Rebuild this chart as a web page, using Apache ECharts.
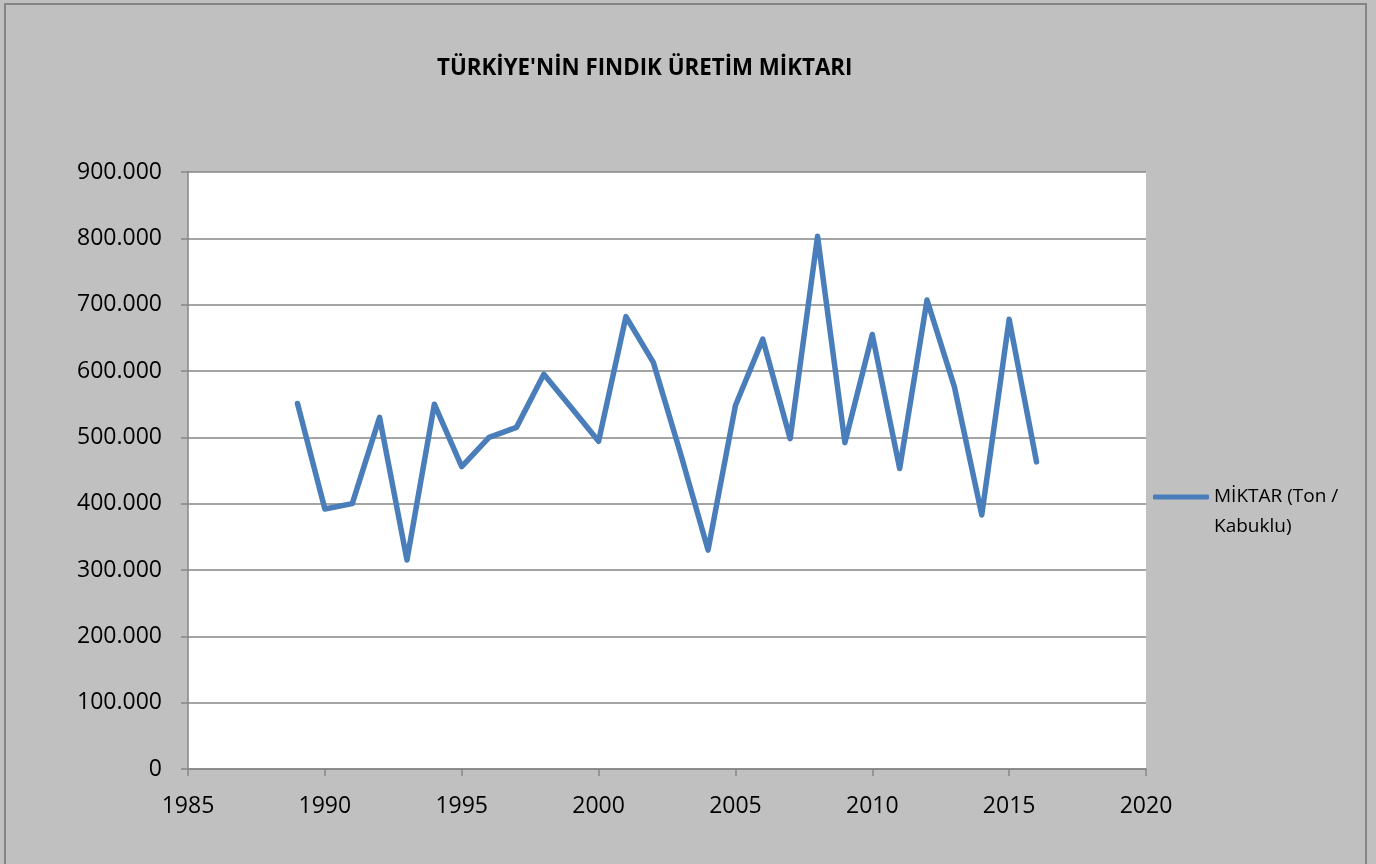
<!DOCTYPE html>
<html>
<head>
<meta charset="utf-8">
<title>Türkiye'nin Fındık Üretim Miktarı</title>
<script src="https://cdn.jsdelivr.net/npm/echarts@6/dist/echarts.min.js"></script>
<style>
  html, body { margin: 0; padding: 0; background: #c0c0c0; }
  #chart { width: 1376px; height: 864px; }
</style>
</head>
<body>
<div id="chart"></div>
<script>
  // Yıllar ve üretim miktarları (ton, kabuklu)
  const years = [1989, 1990, 1991, 1992, 1993, 1994, 1995, 1996, 1997, 1998,
                 1999, 2000, 2001, 2002, 2003, 2004, 2005, 2006, 2007, 2008,
                 2009, 2010, 2011, 2012, 2013, 2014, 2015, 2016];
  const amounts = [551000, 392000, 400000, 530000, 315000, 550000, 456000, 500000, 515000, 595000,
                   545000, 494000, 682000, 613000, 475000, 330000, 548000, 648000, 498000, 803000,
                   492000, 655000, 453000, 707000, 576000, 383000, 678000, 463000];
  const seriesName = 'MİKTAR (Ton / Kabuklu)';
  const titleText = "TÜRKİYE'NİN FINDIK ÜRETİM MİKTARI";

  const points = years.map(function (y, i) { return [y, amounts[i]]; });

  // binlik ayırıcı nokta: 900000 -> 900.000
  function fmt(v) {
    return String(v).replace(/\B(?=(\d{3})+(?!\d))/g, '.');
  }

  const font = '"Open Sans", "Liberation Sans", sans-serif';
  const axisGray = '#868686';

  const chart = echarts.init(document.getElementById('chart'), null, { renderer: 'canvas' });
  chart.setOption({
    backgroundColor: '#c0c0c0',
    animation: false,
    title: {
      text: titleText,
      left: 432,
      top: 53,
      textStyle: { fontFamily: font, fontSize: 22.3, fontWeight: 'bold', color: '#000' }
    },
    legend: {
      left: 1153,
      top: 452,
      padding: 0,
      icon: 'roundRect',
      itemWidth: 56,
      itemHeight: 5,
      // boş ilk satır: ilk satır çizgiyle hizalı kalsın diye
      formatter: function () { return ' \nMİKTAR (Ton /\nKabuklu)'; },
      textStyle: { fontFamily: font, fontSize: 19, color: '#000', lineHeight: 30 },
      data: [seriesName]
    },
    grid: { left: 188, right: 230, top: 172, bottom: 95, containLabel: false },
    xAxis: {
      type: 'value',
      min: 1985,
      max: 2020,
      interval: 5,
      axisLine: { show: true, lineStyle: { color: axisGray, width: 1.5 } },
      axisTick: { show: true, inside: false, length: 7, lineStyle: { color: axisGray, width: 1.5 } },
      splitLine: { show: false },
      axisLabel: { margin: 26, fontFamily: font, fontSize: 23, color: '#000', formatter: function (v) { return String(v); } }
    },
    yAxis: {
      type: 'value',
      min: 0,
      max: 900000,
      interval: 100000,
      axisLine: { show: true, lineStyle: { color: axisGray, width: 1.5 } },
      axisTick: { show: true, inside: false, length: 7, lineStyle: { color: axisGray, width: 1.5 } },
      splitLine: { show: true, lineStyle: { color: axisGray, width: 1.5 } },
      axisLabel: { margin: 26, fontFamily: font, fontSize: 23, color: '#000', formatter: fmt }
    },
    series: [{
      name: seriesName,
      type: 'line',
      data: points,
      symbol: 'none',
      itemStyle: { color: '#4a7ebb' },
      lineStyle: { color: '#4a7ebb', width: 5.5, cap: 'round', join: 'round' }
    }],
    graphic: [{
      type: 'rect',
      silent: true,
      z: -1,
      shape: { x: 188, y: 172, width: 958, height: 597 },
      style: { fill: '#ffffff' }
    }, {
      type: 'rect',
      silent: true,
      shape: { x: 5, y: 4, width: 1361, height: 900 },
      style: { fill: 'none', stroke: '#858585', lineWidth: 2 }
    }]
  });
</script>
</body>
</html>
